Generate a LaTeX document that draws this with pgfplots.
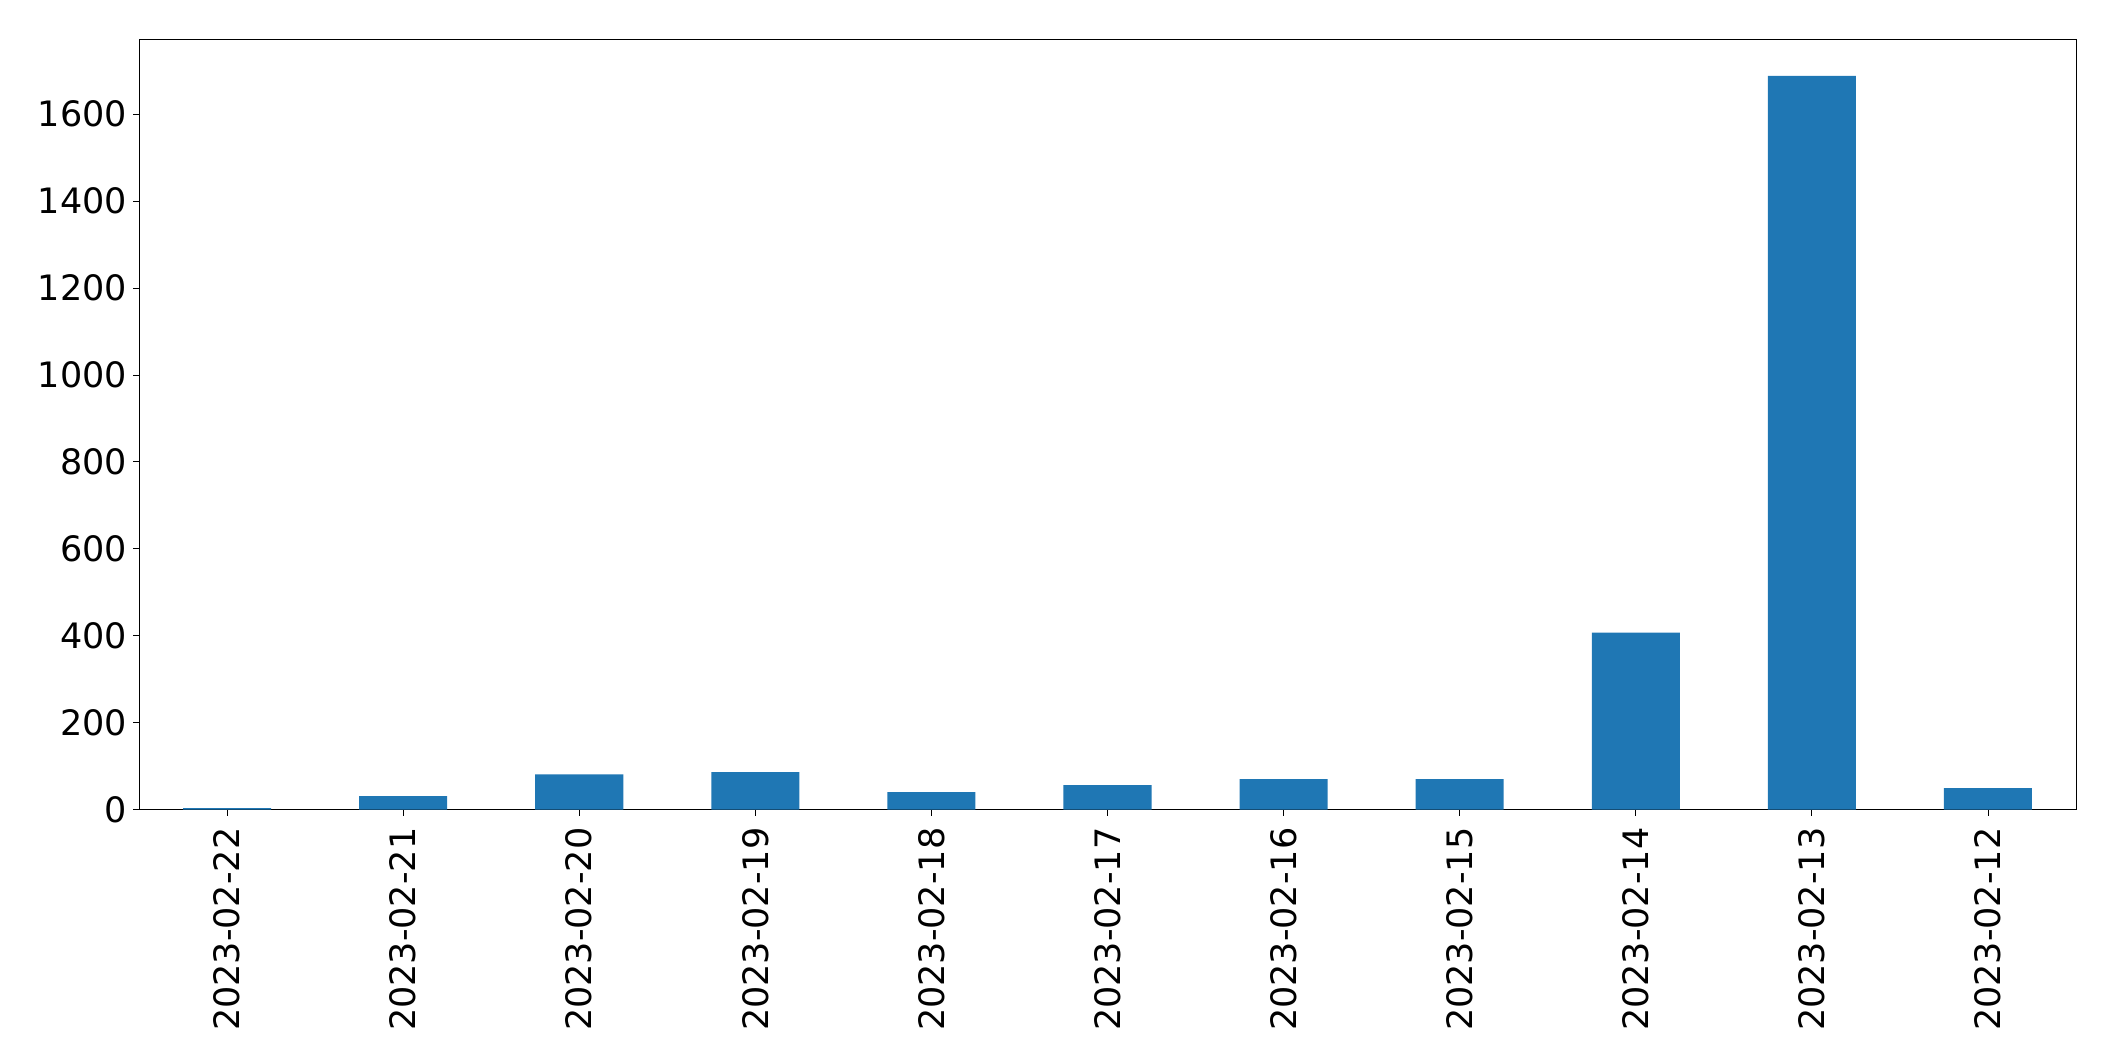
\documentclass[border=0pt]{standalone}
\usepackage{pgfplots}
\pgfplotsset{compat=1.18}
\usepackage{fontspec}
\setmainfont{DejaVu Sans}
\definecolor{mplblue}{HTML}{1F77B4}
\begin{document}
\fontsize{17.5}{20}\selectfont
\begin{tikzpicture}
\path (-69.5pt,-125.75pt) rectangle (988pt,404.75pt);
\begin{axis}[
  at={(0,0)}, anchor=south west,
  scale only axis, width=968.5pt, height=385.25pt,
  xmin=-0.5, xmax=10.5, ymin=0, ymax=1773,
  xtick={0,1,2,3,4,5,6,7,8,9,10},
  xticklabels={2023-02-22,2023-02-21,2023-02-20,2023-02-19,2023-02-18,2023-02-17,2023-02-16,2023-02-15,2023-02-14,2023-02-13,2023-02-12},
  x tick label style={rotate=90, anchor=east},
  y tick label style={xshift=3pt},
  ytick={0,200,400,600,800,1000,1200,1400,1600},
  tick align=outside, xtick pos=bottom, ytick pos=left,
  major tick length=3pt,
  tick style={black, line width=0.4pt},
  axis line style={line width=0.4pt},
  ticklabel style={font=\fontsize{17.5}{20}\selectfont},
  /pgf/number format/assume math mode=true,
  /pgf/number format/set thousands separator={},
]
\addplot[ybar, bar width=0.5, fill=mplblue, draw=none] coordinates {
(0,3) (1,31) (2,81) (3,86) (4,40) (5,56) (6,70) (7,70) (8,407) (9,1688) (10,49)
};
\end{axis}
\end{tikzpicture}
\end{document}
